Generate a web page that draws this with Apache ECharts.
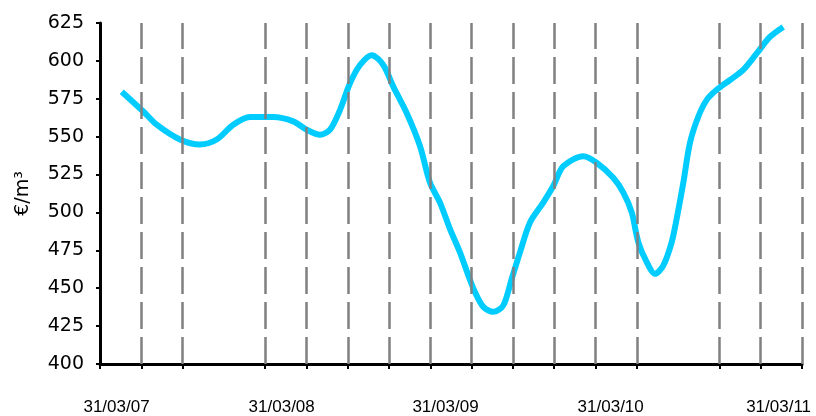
<!DOCTYPE html>
<html>
<head>
<meta charset="utf-8">
<script src="https://cdn.jsdelivr.net/npm/echarts@6/dist/echarts.min.js"></script>
<style>
  html, body { margin: 0; padding: 0; background: #fff; }
  #chart { width: 816px; height: 416px; }
</style>
</head>
<body>
<div id="chart"></div>
<script>
// x is in months from the left edge of the axis
var curveMonths = [1.58, 3.15, 4.12, 5.81, 7.26, 8.48, 9.68, 10.9, 12.59, 14.04, 15.02, 15.98, 16.71, 17.44, 18.16, 18.89, 19.74, 20.58, 21.31, 22.28, 23.25, 23.97, 24.7, 25.43, 26.15, 26.76, 27.24, 27.85, 28.57, 29.3, 29.91, 30.51, 31.24, 32.2, 32.93, 33.66, 35.11, 36.08, 37.29, 38.02, 38.63, 39.11, 39.72, 40.32, 40.92, 41.53, 41.89, 42.38, 42.86, 43.47, 44.08, 44.8, 45.77, 46.73, 47.71, 48.67, 49.64]
var pricePerM3 = [579.7, 566.6, 557.9, 548.1, 544.8, 548.1, 557.9, 563.0, 563.0, 560.1, 554.6, 551.3, 554.6, 567.7, 585.3, 597.3, 603.8, 597.3, 583.0, 565.6, 543.7, 519.7, 506.5, 489.0, 473.7, 458.4, 447.5, 437.7, 434.4, 438.7, 456.2, 473.7, 493.4, 506.5, 517.4, 530.5, 537.1, 532.8, 522.9, 513.1, 500.0, 480.3, 467.2, 459.5, 464.9, 480.3, 495.6, 519.7, 545.9, 563.3, 574.3, 580.9, 587.4, 594.0, 604.9, 615.8, 622.4]

var gridMonths = [3, 6, 12, 15, 18, 21, 24, 27, 30, 33, 36, 39, 45, 48, 51]
var tickMonths = [0, 3, 6, 12, 15, 18, 21, 24, 27, 30, 33, 36, 39, 45, 48, 51]
var dateLabels = ['31/03/07', '31/03/08', '31/03/09', '31/03/10', '31/03/11']
var dateLabelMonths = [1.2, 13.2, 25.1, 37.1, 49.3]

var chart = echarts.init(document.getElementById('chart'))

var points = curveMonths.map(function (m, i) { return [m, pricePerM3[i]] })

chart.setOption({
  animation: false,
  backgroundColor: '#ffffff',
  textStyle: { fontFamily: 'Liberation Sans, Arial, sans-serif' },
  grid: { left: 100, right: 14, top: 23, bottom: 51 },
  xAxis: {
    type: 'value',
    min: 0,
    max: 51,
    axisLine: { lineStyle: { color: '#000', width: 3 } },
    axisTick: {
      customValues: tickMonths,
      length: 5,
      lineStyle: { color: '#000', width: 2 }
    },
    axisLabel: {
      customValues: dateLabelMonths,
      margin: 35,
      fontSize: 17,
      color: '#000',
      formatter: function (v) {
        var i = dateLabelMonths.indexOf(v)
        return i >= 0 ? dateLabels[i] : ''
      }
    },
    splitLine: { show: false }
  },
  yAxis: {
    type: 'value',
    min: 400,
    max: 625,
    interval: 25,
    name: '€/m³',
    nameLocation: 'middle',
    nameGap: 67,
    nameTextStyle: { fontSize: 19, color: '#000', fontFamily: 'DejaVu Sans' },
    axisLine: { show: true, lineStyle: { color: '#000', width: 3 } },
    axisTick: { show: true, length: 4, lineStyle: { color: '#000', width: 2 } },
    axisLabel: { fontSize: 19, color: '#000', margin: 16, fontFamily: 'DejaVu Sans' },
    splitLine: { show: false }
  },
  series: [
    {
      type: 'line',
      data: [],
      z: 1,
      silent: true,
      markLine: {
        silent: true,
        symbol: 'none',
        label: { show: false },
        lineStyle: { color: '#808080', width: 2.5, type: [27, 8] },
        data: gridMonths.map(function (m) { return { xAxis: m } })
      }
    },
    {
      name: '€/m³',
      type: 'line',
      data: points,
      z: 3,
      smooth: 0.3,
      showSymbol: false,
      lineStyle: { color: '#00ccff', width: 6 }
    }
  ]
})
</script>
</body>
</html>
